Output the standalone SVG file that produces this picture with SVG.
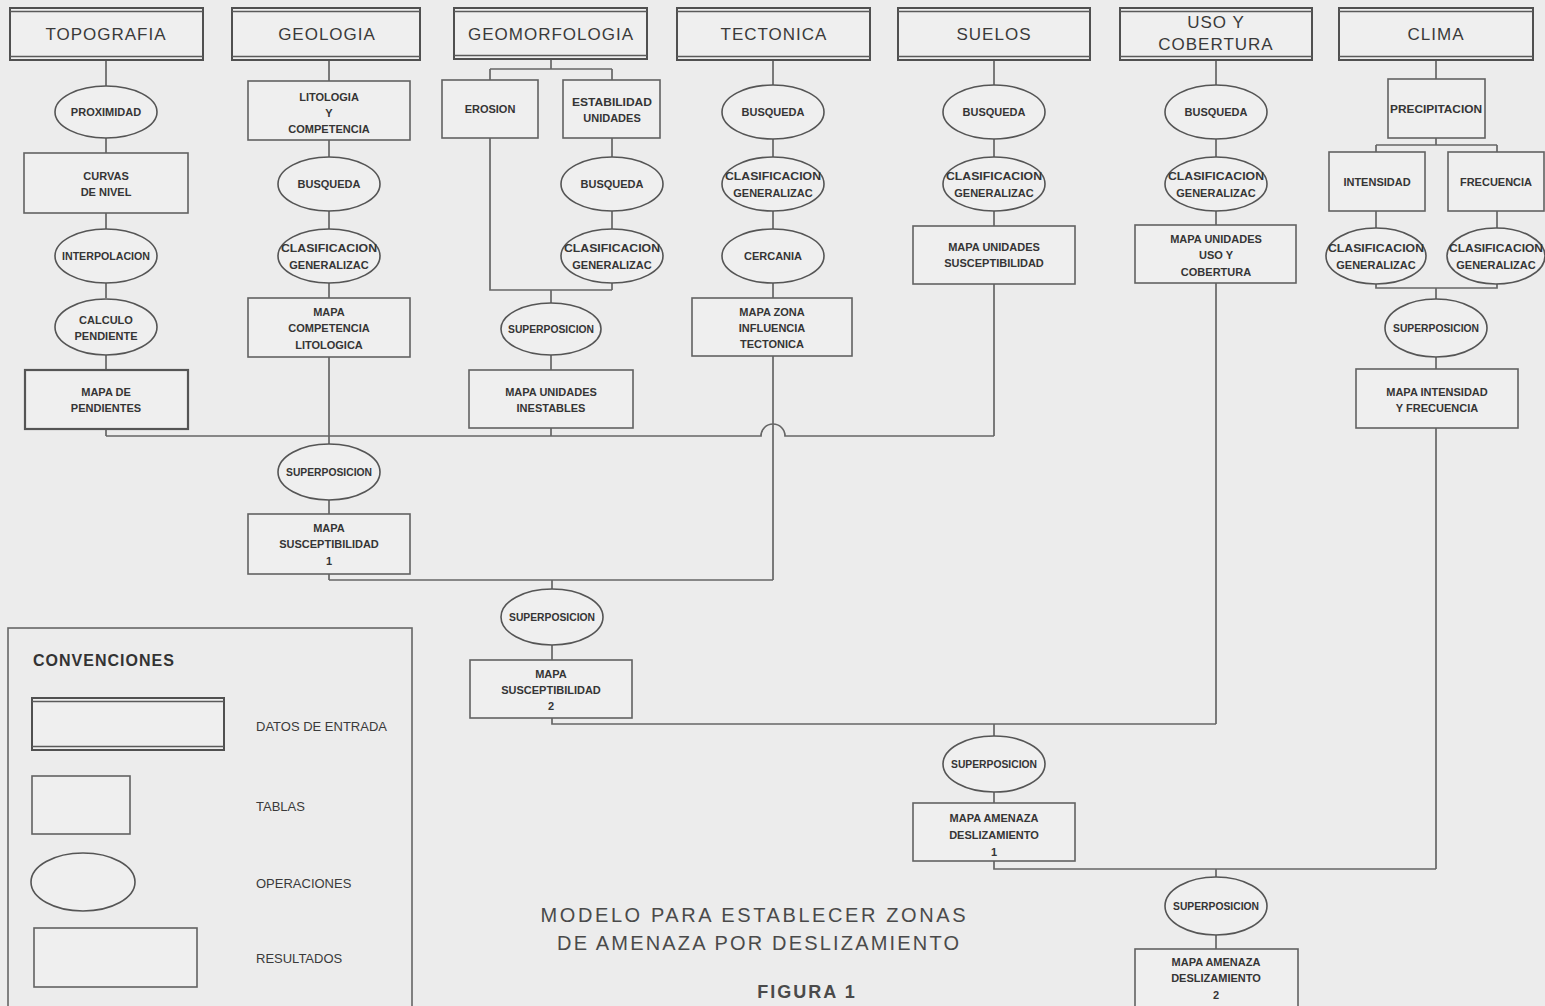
<svg xmlns="http://www.w3.org/2000/svg" width="1545" height="1006" viewBox="0 0 1545 1006">
<style>
.bg{fill:#ececec}
.inp{fill:#efefef;stroke:#505050;stroke-width:2}
.dl{stroke:#5a5a5a;stroke-width:1.3}
.box{fill:#efefef;stroke:#626262;stroke-width:1.6}
.res{fill:#efefef;stroke:#555;stroke-width:2.2}
.op{fill:#efefef;stroke:#555;stroke-width:1.6}
.c{fill:none;stroke:#666;stroke-width:1.7}
.h{font-family:"Liberation Sans",Arial,sans-serif;font-size:17px;letter-spacing:1px;fill:#3a3a3a;text-anchor:middle}
.t{font-family:"Liberation Sans",Arial,sans-serif;font-size:11px;font-weight:bold;fill:#353535;text-anchor:middle}
.lg{font-family:"Liberation Sans",Arial,sans-serif;font-size:13px;fill:#3a3a3a}
.ti{font-family:"Liberation Sans",Arial,sans-serif;font-size:20px;fill:#4a4a4a;text-anchor:middle}
</style>
<rect class="bg" x="0" y="0" width="1545" height="1006"/>

<g id="connectors">
<path class="c" d="M106,60V86M106,138V153M106,213V229M106,283V298M106,355V370M106,429V436"/>
<path class="c" d="M329,60V81M329,140V157M329,211V229M329,283V298M329,357V444M329,500V514M329,574V580"/>
<path class="c" d="M551,59V69M490,69H612M490,69V80M612,69V80M612,138V157M612,211V229M612,283V290M490,138V290H612M551,290V303M551,355V370M551,428V436"/>
<path class="c" d="M773,60V85M773,139V157M773,211V229M773,283V298M773,356V580"/>
<path class="c" d="M994,60V85M994,139V157M994,211V226M994,284V436"/>
<path class="c" d="M1216,60V85M1216,139V157M1216,211V225M1216,283V724"/>
<path class="c" d="M1436,60V79M1436,138V145M1376,145H1497M1376,145V152M1497,145V152M1376,211V228M1497,211V228M1376,284V288H1497V284M1436,288V299M1436,357V369M1436,428V869"/>
<path class="c" d="M106,436H761A12,12 0 0 1 785,436H994"/>
<path class="c" d="M329,580H773M552,580V589M552,645V660"/>
<path class="c" d="M552,718V724H1216M994,724V736M994,792V803"/>
<path class="c" d="M994,861V869H1436M1216,869V877M1216,935V949"/>
</g>

<g id="n_topografia"><rect class="inp" x="10" y="8" width="193" height="52"/><path class="dl" d="M10,11.5H203M10,56.5H203"/><text class="h" x="106" y="40">TOPOGRAFIA</text></g>
<g id="n_geologia"><rect class="inp" x="232" y="8" width="188" height="52"/><path class="dl" d="M232,11.5H420M232,56.5H420"/><text class="h" x="327" y="40">GEOLOGIA</text></g>
<g id="n_geomorfologia"><rect class="inp" x="454" y="8" width="193" height="51"/><path class="dl" d="M454,11.5H647M454,55.5H647"/><text class="h" x="551" y="40">GEOMORFOLOGIA</text></g>
<g id="n_tectonica"><rect class="inp" x="677" y="8" width="193" height="52"/><path class="dl" d="M677,11.5H870M677,56.5H870"/><text class="h" x="774" y="40">TECTONICA</text></g>
<g id="n_suelos"><rect class="inp" x="898" y="8" width="192" height="52"/><path class="dl" d="M898,11.5H1090M898,56.5H1090"/><text class="h" x="994" y="40">SUELOS</text></g>
<g id="n_uso"><rect class="inp" x="1120" y="8" width="192" height="52"/><path class="dl" d="M1120,11.5H1312M1120,56.5H1312"/><text class="h" x="1216" y="28">USO Y</text><text class="h" x="1216" y="50">COBERTURA</text></g>
<g id="n_clima"><rect class="inp" x="1339" y="8" width="194" height="52"/><path class="dl" d="M1339,11.5H1533M1339,56.5H1533"/><text class="h" x="1436" y="40">CLIMA</text></g>

<g id="n_proximidad"><ellipse class="op" cx="106" cy="112" rx="51" ry="26"/><text class="t" x="106" y="116">PROXIMIDAD</text></g>
<g id="n_curvas"><rect class="box" x="24" y="153" width="164" height="60"/><text class="t" x="106" y="180">CURVAS</text><text class="t" x="106" y="196">DE NIVEL</text></g>
<g id="n_interpolacion"><ellipse class="op" cx="106" cy="256" rx="51" ry="27"/><text class="t" x="106" y="260" textLength="88" lengthAdjust="spacingAndGlyphs">INTERPOLACION</text></g>
<g id="n_calculo"><ellipse class="op" cx="106" cy="327" rx="51" ry="28"/><text class="t" x="106" y="324">CALCULO</text><text class="t" x="106" y="340">PENDIENTE</text></g>
<g id="n_mapa_pendientes"><rect class="res" x="25" y="370" width="163" height="59"/><text class="t" x="106" y="396">MAPA DE</text><text class="t" x="106" y="412">PENDIENTES</text></g>

<g id="n_litologia"><rect class="box" x="248" y="81" width="162" height="59"/><text class="t" x="329" y="101">LITOLOGIA</text><text class="t" x="329" y="117">Y</text><text class="t" x="329" y="133">COMPETENCIA</text></g>
<g id="n_busqueda2"><ellipse class="op" cx="329" cy="184" rx="51" ry="27"/><text class="t" x="329" y="188">BUSQUEDA</text></g>
<g id="n_clasif2"><ellipse class="op" cx="329" cy="256" rx="51" ry="27"/><text class="t" x="329" y="252" textLength="96" lengthAdjust="spacingAndGlyphs">CLASIFICACION</text><text class="t" x="329" y="269">GENERALIZAC</text></g>
<g id="n_mapa_competencia"><rect class="box" x="248" y="298" width="162" height="59"/><text class="t" x="329" y="316">MAPA</text><text class="t" x="329" y="332">COMPETENCIA</text><text class="t" x="329" y="349">LITOLOGICA</text></g>
<g id="n_superposicion1"><ellipse class="op" cx="329" cy="472" rx="51" ry="28"/><text class="t" x="329" y="476" textLength="86" lengthAdjust="spacingAndGlyphs">SUPERPOSICION</text></g>
<g id="n_susceptibilidad1"><rect class="box" x="248" y="514" width="162" height="60"/><text class="t" x="329" y="532">MAPA</text><text class="t" x="329" y="548">SUSCEPTIBILIDAD</text><text class="t" x="329" y="565">1</text></g>

<g id="n_erosion"><rect class="box" x="442" y="80" width="96" height="58"/><text class="t" x="490" y="113">EROSION</text></g>
<g id="n_estabilidad"><rect class="box" x="563" y="80" width="97" height="58"/><text class="t" x="612" y="106" textLength="80" lengthAdjust="spacingAndGlyphs">ESTABILIDAD</text><text class="t" x="612" y="122">UNIDADES</text></g>
<g id="n_busqueda3"><ellipse class="op" cx="612" cy="184" rx="51" ry="27"/><text class="t" x="612" y="188">BUSQUEDA</text></g>
<g id="n_clasif3"><ellipse class="op" cx="612" cy="256" rx="51" ry="27"/><text class="t" x="612" y="252" textLength="96" lengthAdjust="spacingAndGlyphs">CLASIFICACION</text><text class="t" x="612" y="269">GENERALIZAC</text></g>
<g id="n_superposicion3"><ellipse class="op" cx="551" cy="329" rx="50" ry="26"/><text class="t" x="551" y="333" textLength="86" lengthAdjust="spacingAndGlyphs">SUPERPOSICION</text></g>
<g id="n_inestables"><rect class="box" x="469" y="370" width="164" height="58"/><text class="t" x="551" y="396">MAPA UNIDADES</text><text class="t" x="551" y="412">INESTABLES</text></g>

<g id="n_busqueda4"><ellipse class="op" cx="773" cy="112" rx="51" ry="27"/><text class="t" x="773" y="116">BUSQUEDA</text></g>
<g id="n_clasif4"><ellipse class="op" cx="773" cy="184" rx="51" ry="27"/><text class="t" x="773" y="180" textLength="96" lengthAdjust="spacingAndGlyphs">CLASIFICACION</text><text class="t" x="773" y="197">GENERALIZAC</text></g>
<g id="n_cercania"><ellipse class="op" cx="773" cy="256" rx="51" ry="27"/><text class="t" x="773" y="260">CERCANIA</text></g>
<g id="n_zona_tectonica"><rect class="box" x="692" y="298" width="160" height="58"/><text class="t" x="772" y="316">MAPA ZONA</text><text class="t" x="772" y="332">INFLUENCIA</text><text class="t" x="772" y="348">TECTONICA</text></g>

<g id="n_busqueda5"><ellipse class="op" cx="994" cy="112" rx="51" ry="27"/><text class="t" x="994" y="116">BUSQUEDA</text></g>
<g id="n_clasif5"><ellipse class="op" cx="994" cy="184" rx="51" ry="27"/><text class="t" x="994" y="180" textLength="96" lengthAdjust="spacingAndGlyphs">CLASIFICACION</text><text class="t" x="994" y="197">GENERALIZAC</text></g>
<g id="n_unidades_susc"><rect class="box" x="913" y="226" width="162" height="58"/><text class="t" x="994" y="251">MAPA UNIDADES</text><text class="t" x="994" y="267">SUSCEPTIBILIDAD</text></g>

<g id="n_busqueda6"><ellipse class="op" cx="1216" cy="112" rx="51" ry="27"/><text class="t" x="1216" y="116">BUSQUEDA</text></g>
<g id="n_clasif6"><ellipse class="op" cx="1216" cy="184" rx="51" ry="27"/><text class="t" x="1216" y="180" textLength="96" lengthAdjust="spacingAndGlyphs">CLASIFICACION</text><text class="t" x="1216" y="197">GENERALIZAC</text></g>
<g id="n_unidades_uso"><rect class="box" x="1135" y="225" width="161" height="58"/><text class="t" x="1216" y="243">MAPA UNIDADES</text><text class="t" x="1216" y="259">USO Y</text><text class="t" x="1216" y="276">COBERTURA</text></g>

<g id="n_precipitacion"><rect class="box" x="1388" y="79" width="97" height="59"/><text class="t" x="1436" y="113" textLength="92" lengthAdjust="spacingAndGlyphs">PRECIPITACION</text></g>
<g id="n_intensidad"><rect class="box" x="1329" y="152" width="96" height="59"/><text class="t" x="1377" y="186">INTENSIDAD</text></g>
<g id="n_frecuencia"><rect class="box" x="1448" y="152" width="96" height="59"/><text class="t" x="1496" y="186">FRECUENCIA</text></g>
<g id="n_clasif7a"><ellipse class="op" cx="1376" cy="256" rx="50" ry="28"/><text class="t" x="1376" y="252" textLength="96" lengthAdjust="spacingAndGlyphs">CLASIFICACION</text><text class="t" x="1376" y="269">GENERALIZAC</text></g>
<g id="n_clasif7b"><ellipse class="op" cx="1496" cy="256" rx="49" ry="28"/><text class="t" x="1496" y="252" textLength="94" lengthAdjust="spacingAndGlyphs">CLASIFICACION</text><text class="t" x="1496" y="269">GENERALIZAC</text></g>
<g id="n_superposicion7"><ellipse class="op" cx="1436" cy="328" rx="51" ry="29"/><text class="t" x="1436" y="332" textLength="86" lengthAdjust="spacingAndGlyphs">SUPERPOSICION</text></g>
<g id="n_intensidad_frecuencia"><rect class="box" x="1356" y="369" width="162" height="59"/><text class="t" x="1437" y="396">MAPA INTENSIDAD</text><text class="t" x="1437" y="412">Y FRECUENCIA</text></g>

<g id="n_superposicion_s2"><ellipse class="op" cx="552" cy="617" rx="51" ry="28"/><text class="t" x="552" y="621" textLength="86" lengthAdjust="spacingAndGlyphs">SUPERPOSICION</text></g>
<g id="n_susceptibilidad2"><rect class="box" x="470" y="660" width="162" height="58"/><text class="t" x="551" y="678">MAPA</text><text class="t" x="551" y="694">SUSCEPTIBILIDAD</text><text class="t" x="551" y="710">2</text></g>
<g id="n_superposicion_a1"><ellipse class="op" cx="994" cy="764" rx="51" ry="28"/><text class="t" x="994" y="768" textLength="86" lengthAdjust="spacingAndGlyphs">SUPERPOSICION</text></g>
<g id="n_amenaza1"><rect class="box" x="913" y="803" width="162" height="58"/><text class="t" x="994" y="822">MAPA AMENAZA</text><text class="t" x="994" y="839">DESLIZAMIENTO</text><text class="t" x="994" y="856">1</text></g>
<g id="n_superposicion_a2"><ellipse class="op" cx="1216" cy="906" rx="51" ry="29"/><text class="t" x="1216" y="910" textLength="86" lengthAdjust="spacingAndGlyphs">SUPERPOSICION</text></g>
<g id="n_amenaza2"><rect class="box" x="1135" y="949" width="163" height="62"/><text class="t" x="1216" y="966">MAPA AMENAZA</text><text class="t" x="1216" y="982">DESLIZAMIENTO</text><text class="t" x="1216" y="999">2</text></g>

<g id="legend">
<rect x="8" y="628" width="404" height="390" fill="none" stroke="#666" stroke-width="1.6"/>
<text x="33" y="666" font-family="Liberation Sans, Arial, sans-serif" font-size="16" font-weight="bold" letter-spacing="1" fill="#333">CONVENCIONES</text>
<rect class="inp" x="32" y="698" width="192" height="52"/><path class="dl" d="M32,701.5H224M32,746.5H224"/>
<text class="lg" x="256" y="731">DATOS DE ENTRADA</text>
<rect class="box" x="32" y="776" width="98" height="58"/>
<text class="lg" x="256" y="811">TABLAS</text>
<ellipse class="op" cx="83" cy="882" rx="52" ry="29"/>
<text class="lg" x="256" y="888">OPERACIONES</text>
<rect class="box" x="34" y="928" width="163" height="59"/>
<text class="lg" x="256" y="963">RESULTADOS</text>
</g>

<g id="title">
<text class="ti" x="753" y="922" textLength="425">MODELO PARA ESTABLECER ZONAS</text>
<text class="ti" x="758" y="950" textLength="402">DE AMENAZA POR DESLIZAMIENTO</text>
<text x="807" y="998" font-family="Liberation Sans, Arial, sans-serif" font-size="18" font-weight="bold" letter-spacing="2" fill="#4a4a4a" text-anchor="middle">FIGURA 1</text>
</g>
</svg>
